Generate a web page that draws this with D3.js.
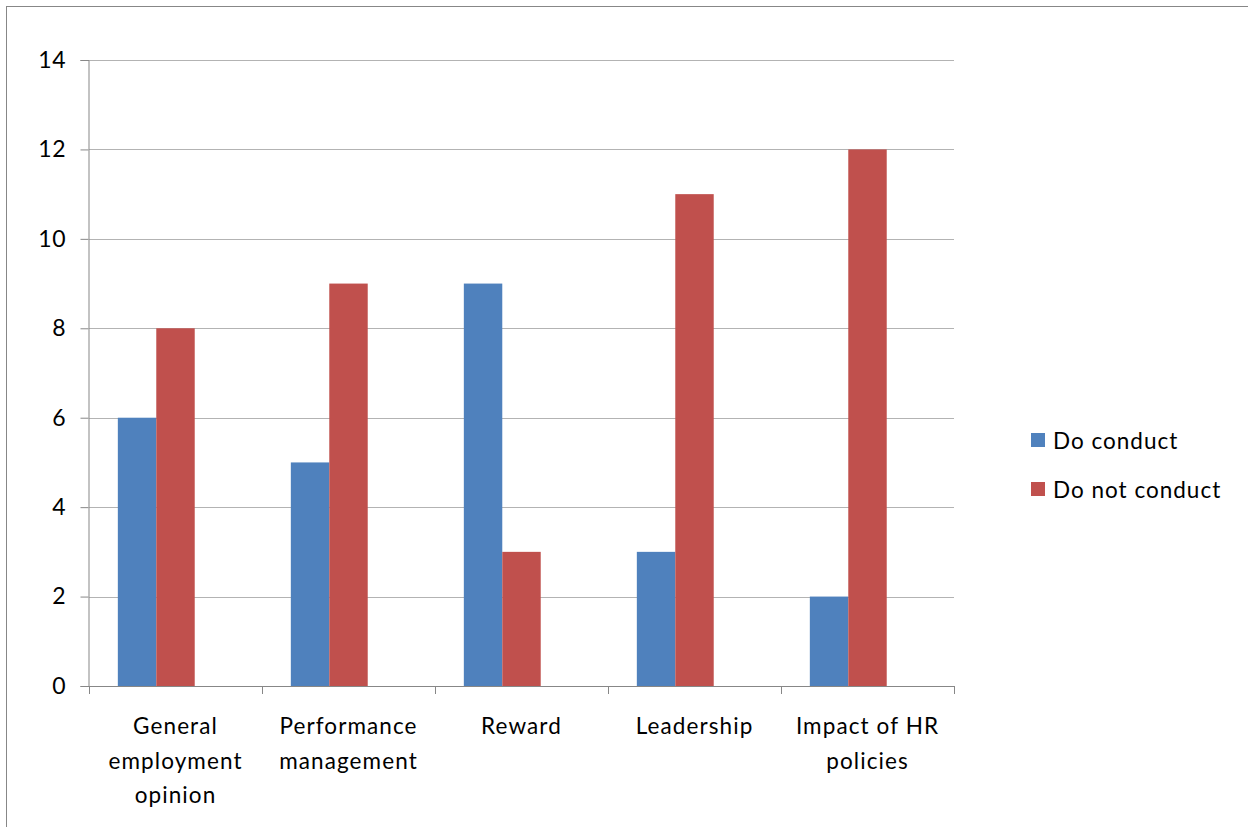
<!DOCTYPE html>
<html>
<head>
<meta charset="utf-8">
<script src="https://cdn.jsdelivr.net/npm/d3@7"></script>
<style>
  html, body { margin: 0; padding: 0; background: #fff; }
  svg text { font-family: Lato, "Open Sans", "Liberation Sans", sans-serif; fill: #000; }
</style>
</head>
<body>
<svg id="chart" width="1248" height="827"></svg>
<script>
// Survey: which research areas organisations conduct
const categories = [
  ["General", "employment", "opinion"],
  ["Performance", "management"],
  ["Reward"],
  ["Leadership"],
  ["Impact of HR", "policies"]
];
const seriesNames = ["Do conduct", "Do not conduct"];
const doConduct = [6, 5, 9, 3, 2];
const doNotConduct = [8, 9, 3, 11, 12];
const yTicks = [0, 2, 4, 6, 8, 10, 12, 14];
const colors = ["#4f81bd", "#c0504d"];

const svg = d3.select("#chart");
const W = 1248, H = 827;
const plot = { left: 89, right: 954, top: 60, bottom: 686 };

// chart area frame
svg.append("rect")
  .attr("x", 6.5).attr("y", 6.5)
  .attr("width", W + 20).attr("height", H + 20)
  .attr("fill", "none").attr("stroke", "#878787").attr("stroke-width", 1);

const catKeys = categories.map((c, i) => i);
const x0 = d3.scaleBand().domain(catKeys).range([plot.left, plot.right]).padding(0);
const bw = x0.bandwidth();
const barW = bw / 4.5;
const x1 = d3.scaleBand().domain(seriesNames)
  .range([barW * 0.75, barW * 0.75 + 2 * barW]).padding(0);
const y = d3.scaleLinear().domain([0, 14]).range([plot.bottom, plot.top]);

// horizontal gridlines
svg.append("g").selectAll("line").data(yTicks.filter(t => t > 0)).join("line")
  .attr("x1", plot.left).attr("x2", plot.right)
  .attr("y1", d => Math.round(y(d)) + 0.5).attr("y2", d => Math.round(y(d)) + 0.5)
  .attr("stroke", "#b3b3b3").attr("stroke-width", 1);

// bars
const rows = catKeys.map(i => ({ i, vals: [doConduct[i], doNotConduct[i]] }));
const groups = svg.append("g").selectAll("g").data(rows).join("g")
  .attr("transform", d => `translate(${x0(d.i)},0)`);
groups.selectAll("rect")
  .data(d => d.vals.map((v, k) => ({ v, k })))
  .join("rect")
  .attr("x", d => x1(seriesNames[d.k]))
  .attr("width", x1.bandwidth())
  .attr("y", d => y(d.v))
  .attr("height", d => y(0) - y(d.v))
  .attr("fill", d => colors[d.k]);

// y axis
const yAxis = d3.axisLeft(y).tickValues(yTicks).tickSize(8).tickPadding(14);
const gy = svg.append("g").attr("transform", `translate(${plot.left - 0.5},0)`).call(yAxis);
gy.select(".domain").attr("stroke", "#878787");
gy.selectAll(".tick line").attr("stroke", "#878787");
gy.selectAll(".tick text").attr("font-size", 23).attr("font-family", "Lato, 'Open Sans', sans-serif")
  .attr("letter-spacing", 0.8).attr("fill", "#000");

// x axis: baseline and boundary ticks
const gx = svg.append("g");
gx.append("line")
  .attr("x1", plot.left - 8).attr("x2", plot.right)
  .attr("y1", plot.bottom + 0.5).attr("y2", plot.bottom + 0.5)
  .attr("stroke", "#878787");
const bounds = catKeys.map(i => x0(i)).concat([plot.right]);
gx.selectAll("line.b").data(bounds).join("line").attr("class", "b")
  .attr("x1", d => Math.round(d) + 0.5).attr("x2", d => Math.round(d) + 0.5)
  .attr("y1", plot.bottom).attr("y2", plot.bottom + 8)
  .attr("stroke", "#878787");

// category labels
const lab = gx.selectAll("text.cat").data(rows).join("text").attr("class", "cat")
  .attr("text-anchor", "middle")
  .attr("font-size", 22.5)
  .attr("letter-spacing", 1.1)
  .attr("transform", d => `translate(${x0(d.i) + bw / 2},0)`);
lab.selectAll("tspan").data(d => categories[d.i]).join("tspan")
  .attr("x", 0)
  .attr("y", (d, j) => 734 + j * 34.5)
  .text(d => d);

// legend
const leg = svg.append("g").selectAll("g").data(seriesNames).join("g")
  .attr("transform", (d, k) => `translate(1031,${433 + k * 49})`);
leg.append("rect").attr("width", 14).attr("height", 14).attr("fill", (d, k) => colors[k]);
leg.append("text").attr("x", 22).attr("y", 15.5).attr("font-size", 22.5)
  .attr("letter-spacing", 1.0).text(d => d);
</script>
</body>
</html>
